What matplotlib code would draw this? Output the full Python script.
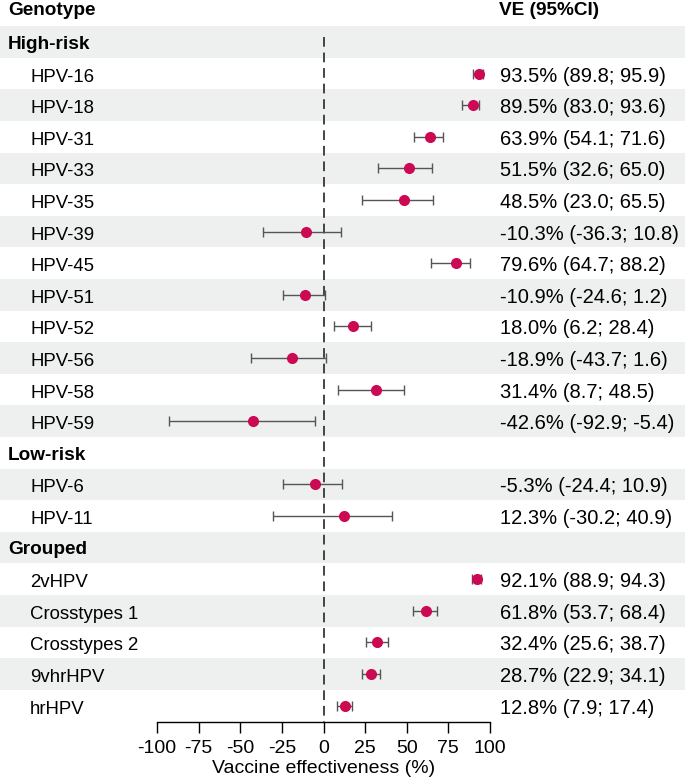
import matplotlib
matplotlib.use("Agg")
import matplotlib.pyplot as plt

plt.rcParams['font.family'] = ['Liberation Sans', 'DejaVu Sans']

# Data
groups = ["High-risk", "Low-risk", "Grouped"]
high_risk = ["HPV-16", "HPV-18", "HPV-31", "HPV-33", "HPV-35", "HPV-39", "HPV-45",
             "HPV-51", "HPV-52", "HPV-56", "HPV-58", "HPV-59"]
high_ve = [93.5, 89.5, 63.9, 51.5, 48.5, -10.3, 79.6, -10.9, 18.0, -18.9, 31.4, -42.6]
high_lo = [89.8, 83.0, 54.1, 32.6, 23.0, -36.3, 64.7, -24.6, 6.2, -43.7, 8.7, -92.9]
high_hi = [95.9, 93.6, 71.6, 65.0, 65.5, 10.8, 88.2, 1.2, 28.4, 1.6, 48.5, -5.4]

low_risk = ["HPV-6", "HPV-11"]
low_ve = [-5.3, 12.3]
low_lo = [-24.4, -30.2]
low_hi = [10.9, 40.9]

grouped = ["2vHPV", "Crosstypes 1", "Crosstypes 2", "9vhrHPV", "hrHPV"]
grp_ve = [92.1, 61.8, 32.4, 28.7, 12.8]
grp_lo = [88.9, 53.7, 25.6, 22.9, 7.9]
grp_hi = [94.3, 68.4, 38.7, 34.1, 17.4]

x_ticks = [-100, -75, -50, -25, 0, 25, 50, 75, 100]

W, H = 685, 779
fig = plt.figure(figsize=(W / 100, H / 100), dpi=100)
ax = fig.add_axes([0, 0, 1, 1])

# pixel mapping
px_m100, px_p100 = 157, 490
scale = (px_p100 - px_m100) / 200.0
xl = -100 - px_m100 / scale
xr = 100 + (W - px_p100) / scale
row0_px, row_h = 42, 31.6
yt = -row0_px / row_h
yb = (H - row0_px) / row_h
ax.set_xlim(xl, xr)
ax.set_ylim(yb, yt)
axis_y = (722 - row0_px) / row_h


def xpx(p):
    return xl + p / scale


def dy(p):
    return p / row_h


# Build rows
rows = []
rows.append(("group", groups[0], None, None, None))
for n, v, l, h in zip(high_risk, high_ve, high_lo, high_hi):
    rows.append(("item", n, v, l, h))
rows.append(("group", groups[1], None, None, None))
for n, v, l, h in zip(low_risk, low_ve, low_lo, low_hi):
    rows.append(("item", n, v, l, h))
rows.append(("group", groups[2], None, None, None))
for n, v, l, h in zip(grouped, grp_ve, grp_lo, grp_hi):
    rows.append(("item", n, v, l, h))

shade = '#EDF0EF'
fs_lab = 13.4
fs_val = 14.5
fs_bold = 13.7
fs_tick = 14

for i, (kind, name, v, l, h) in enumerate(rows):
    if i % 2 == 0:
        ax.axhspan(i - 0.5, i + 0.5, color=shade, zorder=0, lw=0)
    if kind == "group":
        ax.text(xpx(8), i + dy(6.8), name, fontsize=fs_bold, fontweight='bold',
                va='baseline', ha='left')
    else:
        ax.text(xpx(30), i + dy(8.1), name, fontsize=fs_lab, va='baseline', ha='left')
        ax.errorbar([v], [i], xerr=[[v - l], [h - v]], fmt='none', ecolor='#555555',
                    elinewidth=1.0, capsize=3.8, capthick=1.0, zorder=3)
        ax.plot([v], [i], 'o', color='#CC0A54', markersize=8, zorder=4, mec='none')
        ax.text(xpx(500), i + dy(8.1), f"{v:.1f}% ({l:.1f}; {h:.1f})", fontsize=fs_val,
                va='baseline', ha='left')

# headers
hdr_y = (15 - row0_px) / row_h
ax.text(xpx(8), hdr_y, "Genotype", fontsize=fs_bold, fontweight='bold',
        va='baseline', ha='left')
ax.text(xpx(499), hdr_y, "VE (95%CI)", fontsize=fs_bold, fontweight='bold',
        va='baseline', ha='left')

# dashed zero line
ax.plot([0, 0], [-0.15, axis_y], color='#444444', lw=1.4, ls=(0, (5, 3)), zorder=2)

# axis
for s in ['top', 'left', 'right']:
    ax.spines[s].set_visible(False)
ax.spines['bottom'].set_position(('data', axis_y))
ax.spines['bottom'].set_bounds(-100, 100)
ax.spines['bottom'].set_linewidth(1.0)
ax.set_xticks(x_ticks)
ax.set_xticklabels([str(t) for t in x_ticks])
ax.tick_params(axis='x', direction='out', length=8, width=1.0, labelsize=fs_tick, pad=5)
ax.set_yticks([])
ax.text(0, (773 - row0_px) / row_h, "Vaccine effectiveness (%)", fontsize=fs_tick,
        ha='center', va='baseline')

fig.savefig("out.png", dpi=100)
